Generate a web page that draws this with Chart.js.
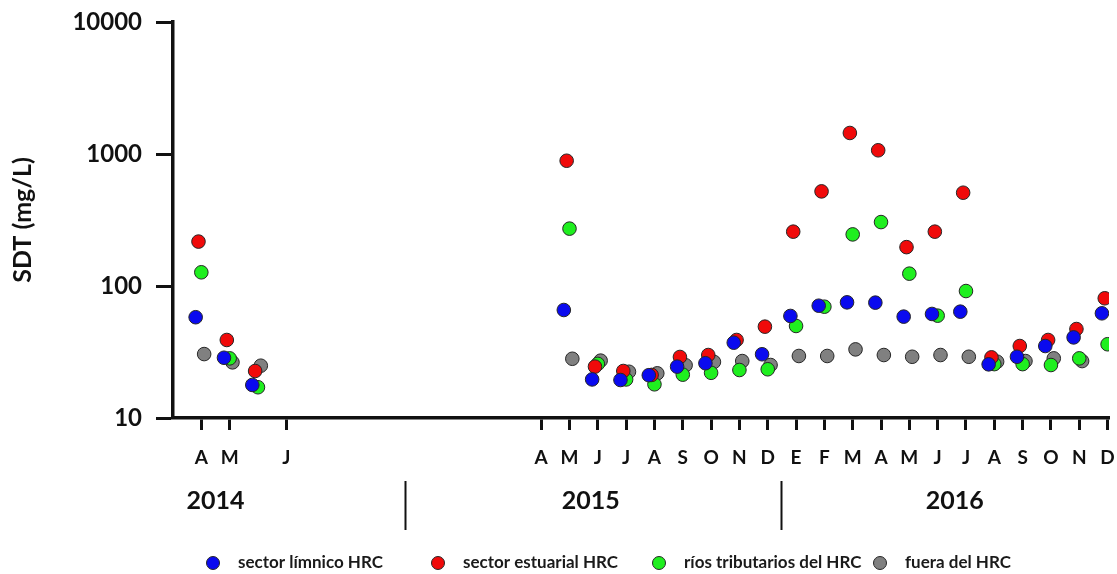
<!DOCTYPE html>
<html>
<head>
<meta charset="utf-8">
<script src="https://cdn.jsdelivr.net/npm/chart.js@4.4.1/dist/chart.umd.min.js"></script>
<style>
  html, body { margin: 0; padding: 0; background: #ffffff; }
  #wrap { width: 1117px; height: 574px; position: relative; }
</style>
</head>
<body>
<div id="wrap"><canvas id="c" width="1117" height="574"></canvas></div>
<script>
// ---------------- DATA ----------------
const months = ["2014-04","2014-05","2014-06",
  "2015-05","2015-06","2015-07","2015-08","2015-09","2015-10","2015-11","2015-12",
  "2016-01","2016-02","2016-03","2016-04","2016-05","2016-06","2016-07","2016-08","2016-09","2016-10","2016-11","2016-12"];

const sectorLimnico   = [58, 28.6, 17.8, 65.8, 19.6, 19.4, 21.1, 24.5, 26, 37.2, 30.4, 59.3, 70.9, 75.2, 74.8, 58.6, 61.4, 63.9, 25.5, 29.1, 35.1, 40.8, 62.1];
const sectorEstuarial = [217, 39, 22.7, 889, 24.5, 22.7, 21.2, 29, 30, 39, 49.2, 258, 521, 1443, 1067, 197, 258, 509, 28.8, 35.1, 39, 47.2, 80.7];
const riosTributarios = [127, 28.3, 17.1, 272, 25.7, 19.6, 18.0, 21.3, 22, 23.1, 23.4, 49.8, 69.7, 246, 305, 124, 59.6, 91.6, 25.6, 25.6, 25.2, 28.3, 36.2];
const fueraHRC        = [30.5, 26.4, 24.9, 28.1, 27.2, 22.4, 21.8, 25.1, 26.6, 27, 25.2, 29.5, 29.5, 33.1, 30, 29.1, 30, 29.1, 26.7, 27, 28.3, 27, null];

const seriesNames = ["sector límnico HRC", "sector estuarial HRC", "ríos tributarios del HRC", "fuera del HRC"];

const tickMonths = ["2014-04","2014-05","2014-07",
  "2015-04","2015-05","2015-06","2015-07","2015-08","2015-09","2015-10","2015-11","2015-12",
  "2016-01","2016-02","2016-03","2016-04","2016-05","2016-06","2016-07","2016-08","2016-09","2016-10","2016-11","2016-12"];
const tickLabels = ["A","M","J",
  "A","M","J","J","A","S","O","N","D",
  "E","F","M","A","M","J","J","A","S","O","N","D"];

const yTicks = [10, 100, 1000, 10000];
const yearLabels = ["2014", "2015", "2016"];

// ---------------- HELPERS ----------------
function monthIndex(s) {
  const [y, m] = s.split("-").map(Number);
  return (y - 2014) * 12 + (m - 1);
}
function makePoints(values, shift) {
  const pts = [];
  months.forEach((m, i) => {
    if (values[i] != null) pts.push({ x: monthIndex(m) + shift, y: values[i] });
  });
  return pts;
}

const FONT = "Lato";
const INK = "#111111";
const colors = ["#0a0aef", "#f00a0a", "#1fef1f", "#808080"];
const shifts = [-0.2, -0.1, 0, 0.1];
const allSeries = [sectorLimnico, sectorEstuarial, riosTributarios, fueraHRC];

const datasets = allSeries.map((vals, k) => ({
  label: seriesNames[k],
  data: makePoints(vals, shifts[k]),
  backgroundColor: colors[k],
  borderColor: "#262626",
  borderWidth: 1,
  pointRadius: 6.8,
  pointHoverRadius: 6.8,
  showLine: false
}));

// extra annotations: year labels, separators and legend
const annotations = {
  id: "annotations",
  afterDraw(chart, args, opts) {
    const ctx = chart.ctx;
    const xs = chart.scales.x;
    ctx.save();
    // year labels
    ctx.fillStyle = INK;
    ctx.font = "bold 25px " + FONT;
    ctx.textAlign = "center";
    ctx.textBaseline = "middle";
    opts.yearPos.forEach((p, i) => {
      ctx.fillText(yearLabels[i], xs.getPixelForValue(p), opts.yearY);
    });
    // separators
    ctx.strokeStyle = INK;
    ctx.lineWidth = 2;
    opts.sepPos.forEach(p => {
      const px = Math.round(xs.getPixelForValue(p)) + 0.5;
      ctx.beginPath();
      ctx.moveTo(px, opts.sepTop);
      ctx.lineTo(px, opts.sepBottom);
      ctx.stroke();
    });
    // legend
    ctx.textAlign = "left";
    ctx.font = "bold 17px " + FONT;
    opts.legendX.forEach((lx, i) => {
      ctx.beginPath();
      ctx.arc(lx, opts.legendY, 6.5, 0, Math.PI * 2);
      ctx.fillStyle = colors[i];
      ctx.fill();
      ctx.lineWidth = 1;
      ctx.strokeStyle = "#262626";
      ctx.stroke();
      ctx.fillStyle = "#1a1a1a";
      ctx.fillText(seriesNames[i], lx + 25, opts.legendY);
    });
    ctx.restore();
  }
};

function draw() {
  new Chart(document.getElementById("c"), {
    type: "scatter",
    data: { datasets },
    plugins: [annotations],
    options: {
      responsive: false,
      animation: false,
      events: [],
      layout: { padding: { top: 22, right: 8, left: 0, bottom: 0 } },
      plugins: {
        legend: { display: false },
        tooltip: { enabled: false },
        annotations: {
          yearPos: [3.5, 16.75, 29.6],
          yearY: 501,
          sepPos: [10.18, 23.48],
          sepTop: 481,
          sepBottom: 530,
          legendX: [213, 438, 659, 880],
          legendY: 563
        }
      },
      scales: {
        x: {
          type: "linear",
          min: 2,
          max: 35.05,
          afterBuildTicks: s => { s.ticks = tickMonths.map(m => ({ value: monthIndex(m) })); },
          afterFit: s => { s.height = 156; s.paddingLeft = 0; s.paddingRight = 0; },
          ticks: {
            autoSkip: false,
            maxRotation: 0,
            minRotation: 0,
            padding: 16,
            color: INK,
            font: { family: FONT, weight: "bold", size: 19 },
            callback: (v, i) => tickLabels[i]
          },
          grid: { drawOnChartArea: false, drawTicks: true, tickLength: 12, tickWidth: 3, tickColor: INK },
          border: { display: true, color: INK, width: 3.5 }
        },
        y: {
          type: "logarithmic",
          min: 10,
          max: 10000,
          afterBuildTicks: s => { s.ticks = yTicks.map(v => ({ value: v })); },
          afterFit: s => { s.width = 173; s.paddingTop = 0; s.paddingBottom = 0; },
          ticks: {
            padding: 14,
            color: INK,
            font: { family: FONT, weight: "bold", size: 24 },
            callback: v => String(v)
          },
          grid: { drawOnChartArea: false, drawTicks: true, tickLength: 17, tickWidth: 3, tickColor: INK },
          border: { display: true, color: INK, width: 3.5 },
          title: {
            display: true,
            text: "SDT (mg/L)",
            color: INK,
            font: { family: FONT, weight: "bold", size: 25 },
            padding: { top: 8, bottom: 0 }
          }
        }
      }
    }
  });
}

if (document.fonts && document.fonts.load) {
  Promise.all([
    document.fonts.load("bold 19px Lato"),
    document.fonts.load("bold 25px Lato")
  ]).then(draw, draw);
} else {
  draw();
}
</script>
</body>
</html>
